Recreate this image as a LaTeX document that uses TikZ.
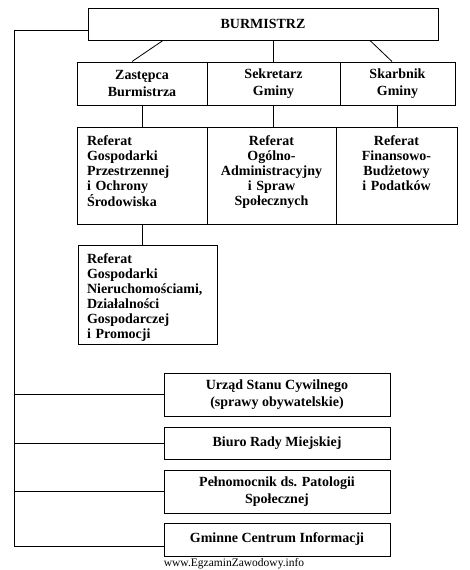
\documentclass[tikz,border=0pt]{standalone}
\usepackage{fontspec}
\setmainfont{Liberation Serif}
\usetikzlibrary{calc}
\tikzset{
	unit/.style={draw, line width=1pt, inner sep=0pt, align=center, font=\bfseries\fontsize{14}{16.5}\selectfont},
	referat/.style={draw, line width=1pt, anchor=north, inner xsep=10pt, inner ysep=0pt, text height=18pt, font=\bfseries\fontsize{14}{15}\selectfont},
	link/.style={line width=0.8pt}
}

\begin{document}
\begin{tikzpicture}[x=1pt, y=-1pt]
			%%%%% START %%%%%
			\useasboundingbox (0, 0) rectangle (469, 570);
			
			\node[unit, minimum width=350pt, minimum height=32pt] (burm) at (263, 24) {BURMISTRZ};
			
			\node[unit, minimum width=130pt, minimum height=43pt] (zast) at (142, 83.5) {Zastępca\\Burmistrza};
			\node[unit, minimum width=133pt, minimum height=43pt] (sekr) at (273.5, 83.5) {Sekretarz\\Gminy};
			\node[unit, minimum width=115pt, minimum height=43pt] (skarb) at (397.5, 83.5) {Skarbnik\\Gminy};
			
			\node[referat, text width=110pt, text depth=79pt, align=left] (refgp) at (142, 127) {Referat\\Gospodarki\\Przestrzennej\\i Ochrony\\Środowiska};
			\node[referat, text width=109pt, text depth=79pt, align=center] (refoa) at (271.5, 127) {Referat\\Ogólno-\\Administracyjny\\i Spraw\\Społecznych};
			\node[referat, text width=101pt, text depth=79pt, align=center] (reffb) at (396.5, 127) {Referat\\Finansowo-\\Budżetowy\\i Podatków};
			
			\node[referat, inner xsep=9pt, text width=121pt, text depth=81pt, align=left] (refgn) at (147.5, 245) {Referat\\Gospodarki\\Nieruchomościami,\\Działalności\\Gospodarczej\\i Promocji};
			
			\node[unit, minimum width=226pt, minimum height=43pt] (usc) at (277, 394.5) {Urząd Stanu Cywilnego\\(sprawy obywatelskie)};
			\node[unit, minimum width=226pt, minimum height=32pt] (brm) at (277, 443) {Biuro Rady Miejskiej};
			\node[unit, minimum width=226pt, minimum height=43pt] (pps) at (277, 491.5) {Pełnomocnik ds. Patologii\\Społecznej};
			\node[unit, minimum width=226pt, minimum height=33pt] (gci) at (277, 539.5) {Gminne Centrum Informacji};
			
			\draw[link] ([xshift=-100pt]burm.south) -- ([xshift=-10pt]zast.north);
			\draw[link] (sekr.north |- burm.south) -- (sekr.north);
			\draw[link] ([xshift=107pt]burm.south) -- ([xshift=-5.5pt]skarb.north);
			
			\draw[link] (zast.south) -- (zast.south |- refgp.north);
			\draw[link] (sekr.south) -- (sekr.south |- refoa.north);
			\draw[link] (skarb.south) -- (skarb.south |- reffb.north);
			\draw[link] (refgp.south) -- (refgp.south |- refgn.north);
			
			\coordinate (railtop) at (14, 30);
			\coordinate (railend) at (14, 546);
			\draw[link] (burm.west |- railtop) -- (railtop) -- (railend) -- (railend -| gci.west);
			\draw[link] (railtop |- usc.west) -- (usc.west);
			\draw[link] (railtop |- brm.west) -- (brm.west);
			\draw[link] (railtop |- pps.west) -- (pps.west);
			
			\node[font=\fontsize{11.5}{12}\selectfont] (www) at (234, 564) {www.EgzaminZawodowy.info};
			%%%%% END %%%%%
		\end{tikzpicture}
\end{document}
